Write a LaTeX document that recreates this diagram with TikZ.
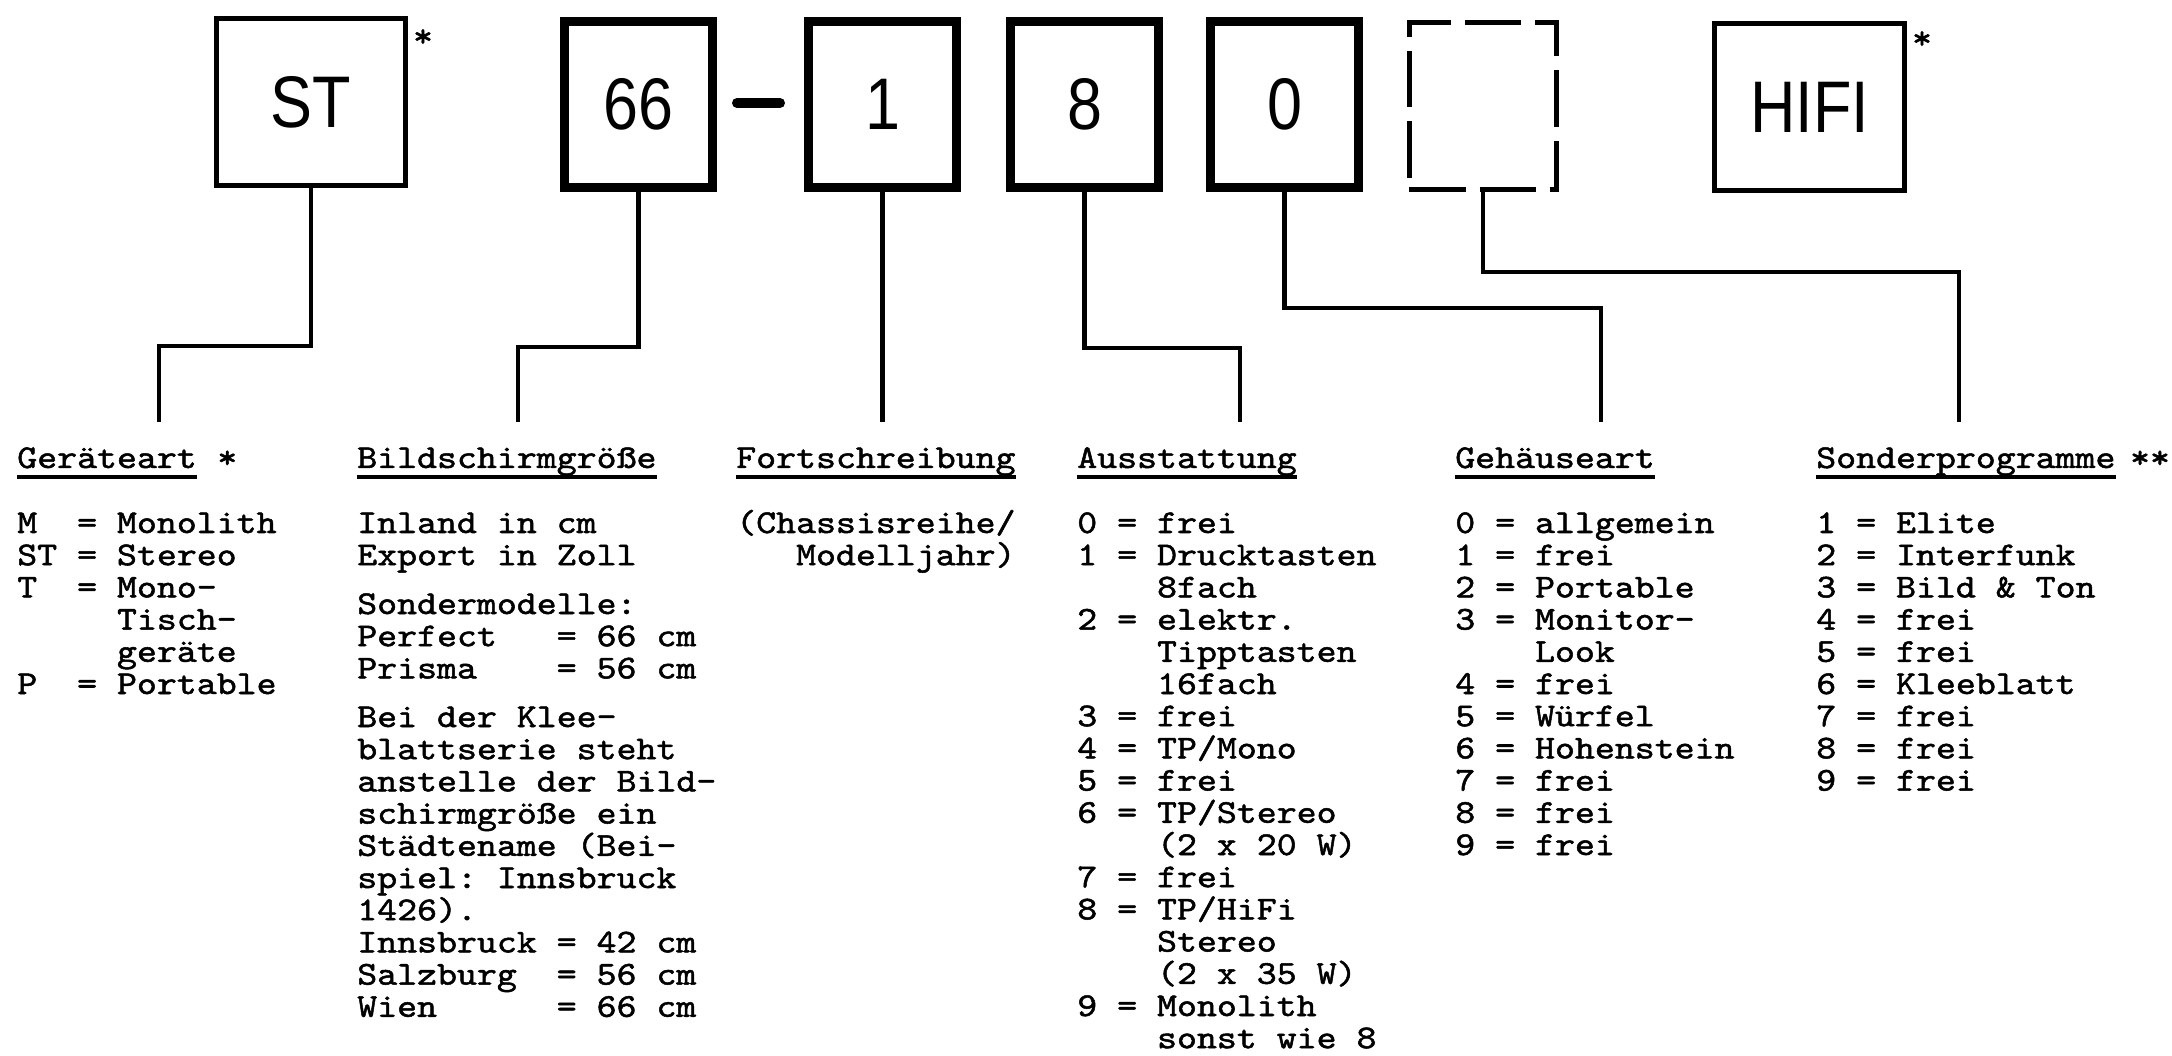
\documentclass[tikz,border=0pt]{standalone}
\usepackage{fontspec}
\usetikzlibrary{calc, positioning}
\newfontfamily\typew{lmmono10-regular}[Extension=.otf, FakeBold=1.5, FakeStretch=1.14]
\newfontfamily\labfont{Liberation Sans}[FakeStretch=0.86]
\frenchspacing

\begin{document}
\begin{tikzpicture}[x=0.025cm, y=-0.025cm,
    box/.style={draw, line width=0.125cm, minimum width=4.725cm, minimum height=4.175cm,
      inner sep=0pt, font=\labfont\fontsize{52}{60}\selectfont},
    digit/.style={box, line width=0.225cm, minimum width=3.675cm, minimum height=4.15cm},
    free/.style={box, dash pattern=on 1.4cm off 0.35cm, minimum width=3.675cm},
    txt/.style={font=\typew\fontsize{23.7}{28}\selectfont, inner sep=0pt, anchor=base west},
    wire/.style={line width=0.12cm},
    ul/.style={line width=0.09cm}]
   \path[use as bounding box, fill=white] (0,0) rectangle (2172,1056);

   % Type number boxes
   \node[box] (st) at (311,102) {ST};
   \node[digit] (b66) at (638.5,104.5) {66};
   \node[digit] (b1) at (882.5,104.5) {1};
   \node[digit] (b8) at (1084.5,104.5) {8};
   \node[digit] (b0) at (1284.5,104.5) {0};
   \node[free] (bx) at (1483,106) {};
   \node[box] (hifi) at (1809.5,107) {HIFI};
   \node[txt, anchor=center] (ststar) at (423,38) {*};
   \node[txt, anchor=center] (hifistar) at (1922,40) {*};
   \draw[line width=0.25cm, line cap=round] (737,103) -- (780,103);

   % Bends and ends of the connectors
   \coordinate (gaBend) at (159,346);  \coordinate (gaEnd) at (159,422);
   \coordinate (bsBend) at (518,347);  \coordinate (bsEnd) at (518,422);
   \coordinate (fsEnd) at (880,422);
   \coordinate (auBend) at (1240,348); \coordinate (auEnd) at (1240,422);
   \coordinate (ghBend) at (1601,308); \coordinate (ghEnd) at (1601,422);
   \coordinate (spBend) at (1959,272); \coordinate (spEnd) at (1959,422);

   \draw[wire] (st.south) |- (gaBend) -- (gaEnd);
   \draw[wire] (b66.south) |- (bsBend) -- (bsEnd);
   \draw[wire] (b1.south) -- (b1.south |- fsEnd);
   \draw[wire] (b8.south) |- (auBend) -- (auEnd);
   \draw[wire] (b0.south) |- (ghBend) -- (ghEnd);
   \draw[wire] (bx.south) |- (spBend) -- (spEnd);

   % Headings
   \node[txt] (ga) at (17,468) {Geräteart};
   \node[txt] (gastar) at (ga.base east) {~*};
   \node[txt] (bs) at (357,468) {Bildschirmgröße};
   \node[txt] (fs) at (736,468) {Fortschreibung};
   \node[txt] (au) at (1077,468) {Ausstattung};
   \node[txt] (gh) at (1455,468) {Gehäuseart};
   \node[txt] (sp) at (1816,468) {Sonderprogramme};
   \node[txt] (spstar) at ([xshift=0.35cm]sp.base east) {**};
   \foreach \h in {ga,bs,fs,au,gh,sp}
     \draw[ul] ($(\h.base west)+(0,9)$) -- ($(\h.base east)+(0,9)$);

   % Geraeteart
   \foreach \entry [count=\i from 0] in {M~~= Monolith, ST = Stereo, T~~= Mono-,
       ~~~~~Tisch-, ~~~~~geräte, P~~= Portable}
     \node[txt] (ga\i) at (17,{533+32.2*\i}) {\entry};

   % Bildschirmgroesse
   \foreach \entry [count=\i from 0] in {Inland in cm, Export in Zoll}
     \node[txt] (bsa\i) at (357,{533+32.2*\i}) {\entry};
   \foreach \entry [count=\i from 0] in {Sondermodelle:, Perfect~~~= 66 cm,
       Prisma~~~~= 56 cm}
     \node[txt] (bsb\i) at (357,{614+32.2*\i}) {\entry};
   \foreach \entry [count=\i from 0] in {Bei der Klee-, blattserie steht,
       anstelle der Bild-, schirmgröße ein, Städtename (Bei-, spiel: Innsbruck,
       1426)., Innsbruck = 42 cm, Salzburg~~= 56 cm, Wien~~~~~~= 66 cm}
     \node[txt] (bsc\i) at (357,{727+32.2*\i}) {\entry};

   % Fortschreibung
   \node[txt] (fs0) at (736,533) {(Chassisreihe/};
   \node[txt] (fs1) at (736,565.2) {~~~Modelljahr)};

   % Ausstattung
   \foreach \entry [count=\i from 0] in {0 = frei, 1 = Drucktasten, ~~~~8fach,
       2 = elektr., ~~~~Tipptasten, ~~~~16fach, 3 = frei, 4 = TP/Mono, 5 = frei,
       6 = TP/Stereo, ~~~~{(2 x 20 W)}, 7 = frei, 8 = TP/HiFi, ~~~~Stereo,
       ~~~~{(2 x 35 W)}, 9 = Monolith, ~~~~sonst wie 8}
     \node[txt] (au\i) at (1077,{533+32.2*\i}) {\entry};

   % Gehaeuseart
   \foreach \entry [count=\i from 0] in {0 = allgemein, 1 = frei, 2 = Portable,
       3 = Monitor-, ~~~~Look, 4 = frei, 5 = Würfel, 6 = Hohenstein, 7 = frei,
       8 = frei, 9 = frei}
     \node[txt] (gh\i) at (1455,{533+32.2*\i}) {\entry};

   % Sonderprogramme
   \foreach \entry [count=\i from 0] in {1 = Elite, 2 = Interfunk, 3 = Bild \& Ton,
       4 = frei, 5 = frei, 6 = Kleeblatt, 7 = frei, 8 = frei, 9 = frei}
     \node[txt] (sp\i) at (1816,{533+32.2*\i}) {\entry};
\end{tikzpicture}
\end{document}
